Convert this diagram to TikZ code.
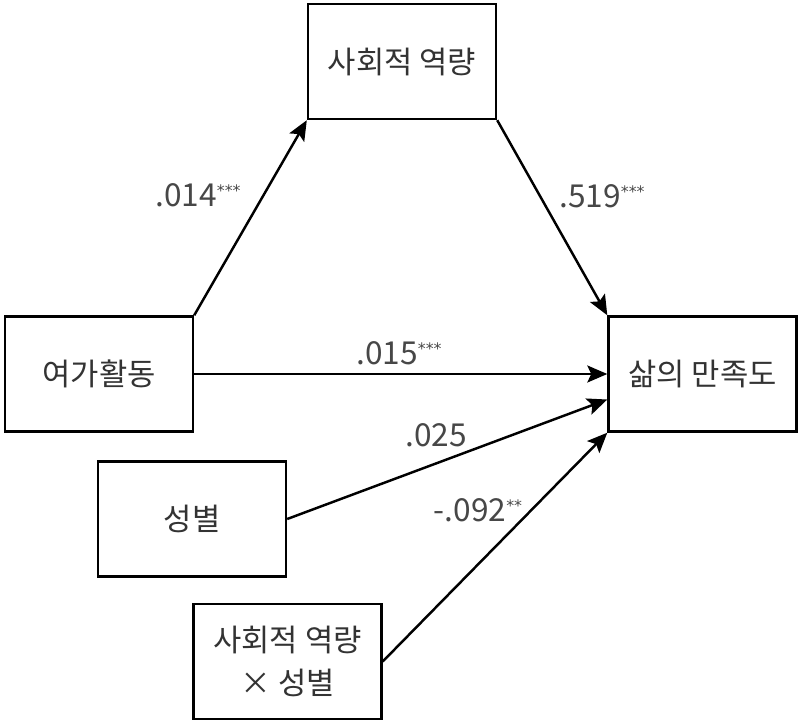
\documentclass[tikz,border=0pt]{standalone}
\usepackage{fontspec}
\setmainfont{Noto Sans CJK KR}
\newfontfamily\starfont{DejaVu Sans}
\usetikzlibrary{arrows.meta}

\newcommand{\sig}[1]{\raisebox{0.3em}{\starfont\fontsize{9}{9}\selectfont #1}}

\tikzset{
	varbox/.style={draw, line width=1.4pt, minimum width=3.76cm, minimum height=2.3cm, align=center, text=black!80, font=\fontsize{17.5}{24}\selectfont},
	coef/.style={text=black!72, font=\fontsize{18}{20}\selectfont, inner sep=0pt},
	path/.style={line width=1.4pt, -{Stealth[length=4mm,width=3.4mm,inset=0.8mm]}}
}

\begin{document}
\begin{tikzpicture}[x=0.02cm, y=-0.02cm]
		\useasboundingbox (0,0) rectangle (800,723);
		% variables
		\node[varbox] (social) at (402,61.5) {사회적 역량};
		\node[varbox] (leisure) at (99,374) {여가활동};
		\node[varbox] (life) at (702.5,374) {삶의 만족도};
		\node[varbox] (gender) at (192,519) {성별};
		\node[varbox] (inter) at (287.5,661.5) {사회적 역량\\× 성별};
		% paths
		\draw[path] (leisure.north east) -- (social.south west);
		\draw[path] (social.south east) -- (life.north west);
		\draw[path] (leisure.east) -- (life.west);
		\draw[path] (gender.east) -- (life.-165);
		\draw[path] (inter.east) -- (life.south west);
		% coefficients
		\node[coef] (c1) at (198,195) {.014\sig{***}};
		\node[coef] (c2) at (602,196) {.519\sig{***}};
		\node[coef] (c3) at (399,353) {.015\sig{***}};
		\node[coef] (c4) at (436,435) {.025};
		\node[coef] (c5) at (478,510) {-.092\sig{**}};
	\end{tikzpicture}
\end{document}
